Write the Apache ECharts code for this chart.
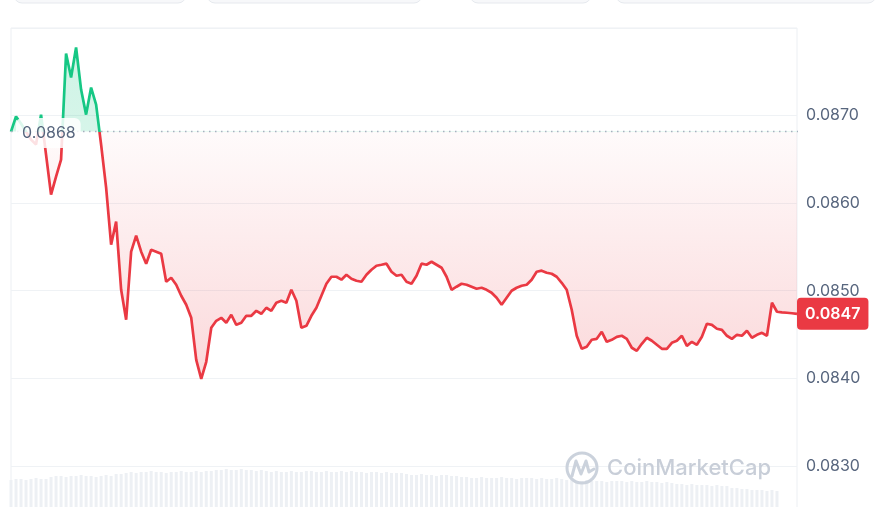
<!DOCTYPE html>
<html><head><meta charset="utf-8">
<script src="https://cdn.jsdelivr.net/npm/echarts@6/dist/echarts.min.js"></script>
<style>html,body{margin:0;padding:0;background:#fff}#c{width:879px;height:507px}</style>
</head><body><div id="c"></div>
<script>
// price series (one point per time step)
const prices = [
0.086817,0.086989,0.086909,0.086817,0.086726,0.086669,0.087011,0.086554,0.086097,0.086303,
0.086497,0.087709,0.087434,0.087777,0.087297,0.087011,0.087320,0.087126,0.086669,0.086177,
0.085526,0.085789,0.085011,0.084669,0.085446,0.085629,0.085446,0.085309,0.085469,0.085446,
0.085423,0.085103,0.085149,0.085069,0.084943,0.084840,0.084691,0.084211,0.083994,0.084189,
0.084577,0.084657,0.084691,0.084634,0.084726,0.084611,0.084634,0.084714,0.084714,0.084771,
0.084737,0.084806,0.084771,0.084863,0.084886,0.084863,0.085011,0.084886,0.084577,0.084600,
0.084714,0.084806,0.084943,0.085080,0.085160,0.085160,0.085126,0.085183,0.085137,0.085114,
0.085103,0.085183,0.085240,0.085286,0.085297,0.085309,0.085217,0.085171,0.085183,0.085103,
0.085080,0.085171,0.085309,0.085297,0.085331,0.085297,0.085263,0.085160,0.085011,0.085046,
0.085080,0.085069,0.085046,0.085023,0.085034,0.085011,0.084977,0.084920,0.084840,0.084920,
0.085000,0.085034,0.085057,0.085069,0.085126,0.085217,0.085229,0.085206,0.085194,0.085160,
0.085091,0.085011,0.084783,0.084486,0.084337,0.084360,0.084440,0.084451,0.084531,0.084417,
0.084440,0.084474,0.084486,0.084451,0.084349,0.084314,0.084394,0.084463,0.084429,0.084383,
0.084337,0.084337,0.084406,0.084429,0.084486,0.084371,0.084417,0.084383,0.084474,0.084623,
0.084611,0.084566,0.084554,0.084486,0.084451,0.084497,0.084486,0.084543,0.084463,0.084497,
0.084520,0.084486,0.084863,0.084760,0.084754,0.084749,0.084743,0.084737
];
// trading volume (relative units)
const volumes = [
27,28,28,27,28,29,28,28,
30,31,31,30,31,31,32,31,31,30,31,32,31,
33,33,34,
35,34,35,35,36,35,35,34,35,35,36,35,35,36,35,36,36,
37,37,38,37,37,38,37,37,36,37,
36,35,36,35,35,36,35,35,36,36,35,35,36,35,35,36,35,36,35,35,34,35,35,34,35,34,34,34,
33,32,32,33,32,32,31,32,32,31,31,
30,30,29,29,30,29,29,29,30,29,29,28,29,29,29,28,29,28,28,29,28,
27,27,26,26,27,26,26,26,25,26,26,26,25,26,25,25,26,25,25,24,25,24,
23,23,22,23,22,22,22,21,22,21,21,
19,19,18,18,17,17,17,16,17,16
];
// y-axis tick settings
const yMin = 0.0820, yMax = 0.0880, yStep = 0.0010;
const baseline = prices[0];
const lastPrice = prices[prices.length - 1];
const categories = prices.map((_, i) => {
  const m = i * 9; return String(Math.floor(m / 60) % 24).padStart(2, '0') + ':' + String(m % 60).padStart(2, '0');
});

const GREEN = '#16c784', RED = '#ea3943';
const FONT = 'Inter, "Noto Sans", sans-serif';
const chart = echarts.init(document.getElementById('c'), null, {renderer: 'canvas'});

const option = {
  animation: false,
  backgroundColor: '#fff',
  textStyle: {fontFamily: FONT},
  grid: [
    {left: 11, right: 82, top: 28, height: 525.5, show: true, borderColor: '#eceff3', borderWidth: 1, outerBoundsMode: 'none'},
    {left: 11, right: 82, bottom: 0, height: 40, outerBoundsMode: 'none'}
  ],
  xAxis: [
    {type: 'category', gridIndex: 0, data: categories, boundaryGap: false, show: false},
    {type: 'category', gridIndex: 1, data: categories, boundaryGap: false, show: false}
  ],
  yAxis: [
    {type: 'value', gridIndex: 0, position: 'right', min: yMin, max: yMax, interval: yStep,
     axisLine: {show: false}, axisTick: {show: false},
     splitLine: {lineStyle: {color: '#eff2f5', width: 1}},
     axisLabel: {showMaxLabel: false, showMinLabel: false, margin: 9, color: '#58667e', fontSize: 16, fontFamily: FONT,
       formatter: v => v.toFixed(4)}},
    {type: 'value', gridIndex: 1, min: 0, max: 40, show: false}
  ],
  series: [
    {type: 'bar', xAxisIndex: 1, yAxisIndex: 1, data: volumes, barWidth: 3, silent: true,
     itemStyle: {color: '#edf0f4'}, z: 0},
    {type: 'line', xAxisIndex: 0, yAxisIndex: 0, data: prices, showSymbol: false, symbol: 'none',
     lineStyle: {width: 2.7, color: RED}, areaStyle: {origin: baseline, color: 'rgba(234,57,67,0.1)'}, z: 3}
  ]
};
chart.setOption(option);

// pixel positions derived from the axes
const yTopPx = chart.convertToPixel({yAxisIndex: 0}, yMax);
const yBasePx = chart.convertToPixel({yAxisIndex: 0}, baseline);
const yLastPx = chart.convertToPixel({yAxisIndex: 0}, lastPrice);
const yLowPx = chart.convertToPixel({yAxisIndex: 0}, Math.min(...prices));
const xStartPx = chart.convertToPixel({xAxisIndex: 0}, 0);
const xEndPx = chart.convertToPixel({xAxisIndex: 0}, prices.length - 1) + 1;
const s = (yBasePx - yTopPx) / (yLowPx - yTopPx);

chart.setOption({
  series: [{}, {
    lineStyle: {color: {type: 'linear', global: true, x: 0, y: yTopPx, x2: 0, y2: yLowPx, colorStops: [
      {offset: 0, color: GREEN}, {offset: s, color: GREEN}, {offset: s, color: RED}, {offset: 1, color: RED}]}},
    areaStyle: {origin: baseline, color: {type: 'linear', global: true, x: 0, y: yTopPx, x2: 0, y2: yLowPx, colorStops: [
      {offset: 0, color: 'rgba(22,199,132,0.3)'}, {offset: s, color: 'rgba(22,199,132,0.25)'},
      {offset: s, color: 'rgba(234,57,67,0.03)'}, {offset: 1, color: 'rgba(234,57,67,0.28)'}]}}
  }],
  graphic: [
    {type: 'rect', shape: {x: 14, y: -30, width: 172, height: 33, r: 8}, style: {fill: '#f7f8fa', stroke: '#e6e9ee'}, z: 1},
    {type: 'rect', shape: {x: 207, y: -30, width: 215, height: 33, r: 8}, style: {fill: '#f7f8fa', stroke: '#e6e9ee'}, z: 1},
    {type: 'rect', shape: {x: 470, y: -30, width: 121, height: 33, r: 8}, style: {fill: '#f7f8fa', stroke: '#e6e9ee'}, z: 1},
    {type: 'rect', shape: {x: 616, y: -30, width: 260, height: 33, r: 8}, style: {fill: '#f7f8fa', stroke: '#e6e9ee'}, z: 1},
    {type: 'circle', shape: {cx: 582, cy: 468, r: 15}, style: {fill: 'none', stroke: '#cbd2dc', lineWidth: 3}, z: 1},
    {type: 'polyline', shape: {points: [[572, 476], [576, 461], [581, 474], [586, 461], [589, 472], [594, 469]]},
     style: {fill: 'none', stroke: '#cbd2dc', lineWidth: 3, lineJoin: 'round', lineCap: 'round'}, z: 1},
    {type: 'text', x: 607, y: 468, style: {text: 'CoinMarketCap', fontSize: 22, fontWeight: 500, fontFamily: FONT, fill: '#c8ced8', verticalAlign: 'middle'}, z: 1},
    // dotted baseline at the opening price
    {type: 'line', shape: {x1: xStartPx, y1: yBasePx, x2: xEndPx, y2: yBasePx},
     style: {stroke: '#a7afbf', lineWidth: 1.5, lineDash: [1.5, 4.5]}, z: 10},
    {type: 'text', x: xStartPx + 5, y: yBasePx + 1.5, z: 11,
     style: {text: baseline.toFixed(4), fontSize: 16, fontFamily: FONT, fill: '#58667e', verticalAlign: 'middle',
       backgroundColor: 'rgba(255,255,255,0.85)', padding: [7, 5, 7, 6], borderRadius: 6}},
    {type: 'text', x: xEndPx - 1, y: yLastPx, z: 11,
     style: {text: lastPrice.toFixed(4), fontSize: 16, fontWeight: 600, fontFamily: FONT, fill: '#fff', verticalAlign: 'middle',
       backgroundColor: RED, padding: [8, 8, 8, 8], borderRadius: 4}}
  ]
});
</script></body></html>
